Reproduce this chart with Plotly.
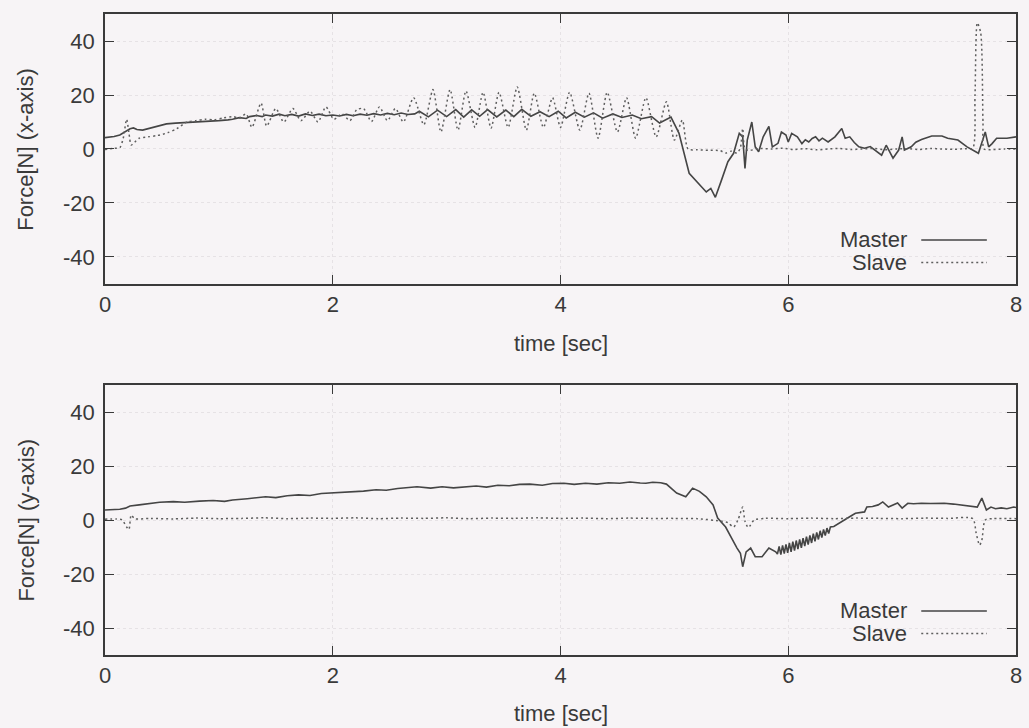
import plotly.graph_objects as go
from plotly.subplots import make_subplots

# ---- measured force, x-axis direction ----
fx_master_t = [0.00, 0.08, 0.13, 0.17, 0.22, 0.25, 0.28, 0.33, 0.40, 0.48, 0.54, 0.62, 0.71, 0.80, 0.92,
               1.00, 1.08, 1.12, 1.18, 1.24, 1.27, 1.33, 1.38, 1.41, 1.47, 1.53, 1.58, 1.64, 1.70, 1.76,
               1.82, 1.88, 1.94, 2.00, 2.06, 2.12, 2.18, 2.24, 2.30, 2.36, 2.42, 2.48, 2.54, 2.60, 2.66,
               2.72, 2.76, 2.84, 2.92, 3.00, 3.08, 3.15, 3.22, 3.29, 3.36, 3.44, 3.52, 3.59, 3.66, 3.74,
               3.82, 3.90, 3.98, 4.05, 4.13, 4.21, 4.29, 4.37, 4.46, 4.54, 4.63, 4.71, 4.80, 4.87, 4.97,
               5.04, 5.13, 5.22, 5.28, 5.32, 5.36, 5.41, 5.47, 5.52, 5.57, 5.60, 5.62, 5.64, 5.68, 5.71,
               5.74, 5.78, 5.83, 5.86, 5.91, 5.94, 5.98, 6.00, 6.03, 6.08, 6.12, 6.15, 6.18, 6.21, 6.24,
               6.27, 6.30, 6.35, 6.41, 6.47, 6.50, 6.54, 6.58, 6.62, 6.67, 6.72, 6.76, 6.82, 6.86, 6.92,
               6.97, 7.00, 7.02, 7.08, 7.12, 7.17, 7.26, 7.35, 7.40, 7.49, 7.57, 7.67, 7.73, 7.76, 7.79,
               7.83, 7.92, 8.00]
fx_master = [4.2, 4.6, 5.2, 6.3, 7.5, 7.8, 7.2, 7.0, 7.8, 8.8, 9.3, 9.6, 9.8, 9.9, 10.1,
             10.5, 10.8, 11.0, 11.6, 11.3, 12.0, 12.4, 12.0, 12.6, 12.2, 12.9, 12.3, 12.8, 12.2, 13.0,
             12.4, 12.9, 12.3, 12.6, 12.2, 12.8, 12.3, 12.9, 12.5, 13.1, 12.6, 13.2, 12.7, 13.3, 12.8,
             13.0, 14.0, 11.9, 14.4, 12.0, 14.6, 11.8, 14.5, 12.1, 14.6, 11.9, 14.4, 12.0, 14.7, 12.1,
             13.8, 12.0, 14.0, 11.5, 13.6, 11.8, 13.4, 11.4, 13.0, 11.7, 12.6, 11.2, 12.0, 9.6, 11.8,
             5.9, -9.0, -13.3, -15.9, -14.6, -17.9, -12.0, -4.7, -1.6, 5.8, 4.5, -7.2, 3.3, 10.0, 0.8,
             -1.0, 4.5, 8.4, 0.8, 2.1, 6.3, 5.2, 2.6, 5.8, 4.5, 2.0, 3.4, 2.6, 3.9, 4.5,
             3.0, 4.0, 2.6, 4.5, 7.6, 4.0, 4.5, 2.4, 0.8, 0.3, 0.9, -0.4, -2.3, 1.4, -3.4,
             -0.4, 4.5, -0.4, 0.8, 2.5, 3.5, 4.8, 4.8, 4.0, 3.3, 0.8, -1.6, 6.3, 0.8, 2.0,
             4.0, 4.0, 4.5]

fx_slave_t = [0.00, 0.08, 0.13, 0.16, 0.19, 0.21, 0.23, 0.26, 0.30, 0.38, 0.46, 0.55, 0.63, 0.72, 0.80,
              0.88, 0.96, 1.04, 1.12, 1.18, 1.24, 1.29, 1.37, 1.42, 1.50, 1.57, 1.65, 1.72, 1.80, 1.87,
              1.94, 2.01, 2.08, 2.15, 2.21, 2.27, 2.34, 2.41, 2.48, 2.55, 2.62, 2.71, 2.80, 2.88, 2.95,
              3.03, 3.10, 3.17, 3.25, 3.32, 3.39, 3.46, 3.54, 3.62, 3.70, 3.77, 3.85, 3.93, 4.00, 4.08,
              4.17, 4.25, 4.33, 4.41, 4.50, 4.58, 4.66, 4.75, 4.84, 4.93, 5.00, 5.07, 5.12, 5.20, 5.30,
              5.40, 5.45, 5.50, 5.55, 5.58, 5.60, 5.62, 5.66, 5.75, 5.85, 5.95, 6.05, 6.15, 6.25, 6.35,
              6.45, 6.55, 6.65, 6.75, 6.85, 6.95, 7.05, 7.15, 7.25, 7.35, 7.45, 7.55, 7.62, 7.64, 7.66,
              7.69, 7.71, 7.72, 7.80, 7.90, 8.00]
fx_slave = [-0.2, 0.3, 0.5, 4.0, 11.0, 6.0, 1.5, 2.5, 4.0, 4.5, 5.0, 6.0, 7.5, 10.0, 10.5,
            11.0, 10.8, 11.5, 12.0, 11.5, 13.0, 8.0, 17.0, 8.5, 15.0, 10.0, 15.0, 10.5, 14.0, 10.0,
            15.6, 11.0, 13.0, 10.5, 14.5, 15.0, 10.2, 15.6, 10.5, 15.0, 10.0, 19.0, 9.0, 22.0, 6.3,
            22.0, 7.0, 21.5, 8.0, 21.0, 7.7, 21.0, 8.0, 23.0, 7.0, 20.7, 8.0, 19.0, 8.0, 21.0,
            7.0, 20.7, 4.0, 21.0, 6.3, 19.0, 4.0, 19.0, 4.5, 17.5, 3.3, 10.7, 0.0, -0.3, -0.5,
            -0.6, -1.5, -0.8, -1.5, 0.5, 7.6, 0.0, -0.5, 0.2, 0.0, 0.3, -0.2, 0.1, -0.3, 0.0,
            0.2, -0.2, 0.0, 0.2, -0.3, 0.0, 0.1, -0.2, 0.2, 0.0, -0.1, 0.1, 0.3, 20.0, 46.7,
            43.0, 10.0, 0.0, -0.2, 0.0, 0.0]

# ---- measured force, y-axis direction ----
fy_master_t = [0.00, 0.13, 0.18, 0.22, 0.30, 0.40, 0.48, 0.60, 0.70, 0.83, 0.95, 1.05, 1.12, 1.25, 1.35,
               1.41, 1.50, 1.60, 1.70, 1.80, 1.90, 1.99, 2.10, 2.20, 2.27, 2.38, 2.47, 2.57, 2.66, 2.74,
               2.86, 2.96, 3.06, 3.16, 3.26, 3.35, 3.45, 3.55, 3.64, 3.73, 3.84, 3.93, 4.03, 4.12, 4.22,
               4.32, 4.42, 4.52, 4.61, 4.70, 4.75, 4.81, 4.88, 4.93, 5.02, 5.10, 5.16, 5.22, 5.28, 5.34,
               5.38, 5.45, 5.51, 5.55, 5.58, 5.60, 5.63, 5.67, 5.71, 5.77, 5.83, 5.89, 5.905, 5.92, 5.935,
               5.95, 5.965, 5.98, 5.995, 6.01, 6.025, 6.04, 6.055, 6.07, 6.085, 6.10, 6.115, 6.13, 6.145, 6.16,
               6.175, 6.19, 6.205, 6.22, 6.235, 6.25, 6.265, 6.28, 6.295, 6.31, 6.325, 6.34, 6.355, 6.37, 6.40,
               6.45, 6.50, 6.55, 6.59, 6.63, 6.67, 6.69, 6.74, 6.79, 6.83, 6.88, 6.92, 6.96, 7.00, 7.05,
               7.10, 7.17, 7.25, 7.37, 7.45, 7.52, 7.60, 7.66, 7.70, 7.74, 7.78, 7.82, 7.87, 7.92, 7.98,
               8.00]
fy_master = [3.7, 4.0, 4.4, 5.2, 5.6, 6.2, 6.6, 6.8, 6.6, 7.0, 7.2, 6.9, 7.4, 7.9, 8.2,
             8.6, 8.3, 9.0, 9.3, 9.1, 9.8, 10.0, 10.2, 10.5, 10.7, 11.2, 11.0, 11.7, 12.1, 12.3,
             11.8, 12.3, 11.9, 12.3, 12.6, 12.2, 12.9, 12.7, 13.2, 13.3, 12.9, 13.5, 13.6, 13.2, 13.6,
             13.3, 13.8, 13.6, 14.1, 13.7, 13.6, 14.0, 13.8, 13.3, 10.0, 8.6, 11.8, 10.6, 8.6, 5.6,
             0.7, -2.6, -7.4, -10.4, -12.3, -17.3, -11.8, -10.4, -13.6, -13.6, -10.4, -11.8, -12.6, -9.8, -12.8,
             -9.4, -12.4, -9.0, -12.2, -8.5, -11.8, -8.0, -11.3, -7.6, -10.8, -7.2, -10.3, -6.7, -9.7, -6.2,
             -9.1, -5.7, -8.5, -5.1, -7.9, -4.6, -7.2, -4.0, -6.5, -3.5, -5.8, -3.0, -5.0, -2.6, -2.4,
             -1.2, 0.0, 1.5, 2.5, 2.8, 3.0, 4.8, 5.0, 5.6, 6.7, 4.8, 5.6, 6.3, 4.4, 6.2,
             6.0, 6.2, 6.1, 6.2, 5.9, 5.6, 5.2, 4.8, 8.1, 3.7, 4.8, 4.2, 4.5, 4.2, 4.8,
             4.6]

fy_slave_t = [0.00, 0.10, 0.15, 0.19, 0.21, 0.23, 0.26, 0.40, 0.60, 0.80, 1.00, 1.20, 1.40, 1.60, 1.80,
              2.00, 2.20, 2.40, 2.60, 2.80, 3.00, 3.20, 3.40, 3.60, 3.80, 4.00, 4.20, 4.40, 4.60, 4.80,
              5.00, 5.20, 5.42, 5.47, 5.52, 5.56, 5.60, 5.62, 5.65, 5.70, 5.80, 6.00, 6.20, 6.40, 6.60,
              6.80, 7.00, 7.20, 7.40, 7.62, 7.65, 7.68, 7.70, 7.73, 7.80, 8.00]
fy_slave = [0.3, 0.4, 0.0, -2.6, -3.5, 1.8, 0.5, 0.6, 0.4, 0.7, 0.5, 0.6, 0.8, 0.5, 0.7,
            0.6, 0.8, 0.5, 0.7, 0.6, 0.8, 0.5, 0.7, 0.6, 0.8, 0.6, 0.7, 0.5, 0.7, 0.6,
            0.6, 0.5, -0.5, -1.0, -2.6, 0.2, 4.8, -0.5, -2.8, 0.0, 0.6, 0.5, 0.7, 0.5, 0.7,
            0.6, 0.5, 0.7, 0.6, 0.5, -4.8, -9.3, -7.5, 0.0, 0.5, 0.5]

x_ticks = [0, 2, 4, 6, 8]
y_ticks = [-40, -20, 0, 20, 40]
y_tick_text = ["-40", "-20", "0", "20", "40"]

INK = "#3a3a3a"
BG = "#f7f4f6"
FONT = "Liberation Sans, Arial, sans-serif"
master_line = dict(color="#454545", width=1.6)
slave_line = dict(color="#5e5e5e", width=1.5, dash="2px,3px")

fig = make_subplots(rows=2, cols=1, vertical_spacing=0.0)

panels = [
    (1, fx_master_t, fx_master, fx_slave_t, fx_slave),
    (2, fy_master_t, fy_master, fy_slave_t, fy_slave),
]
for row, mt, mv, st, sv in panels:
    fig.add_trace(go.Scatter(x=mt, y=mv, mode="lines", line=master_line,
                             name="Master", showlegend=False), row=row, col=1)
    fig.add_trace(go.Scatter(x=st, y=sv, mode="lines",
                             line=dict(slave_line, shape="spline", smoothing=0.7),
                             name="Slave", showlegend=False), row=row, col=1)

axis_common = dict(
    showline=True, linecolor=INK, linewidth=1.6, mirror="allticks",
    ticks="inside", ticklen=9, tickwidth=1.4, tickcolor=INK,
    showgrid=True, gridcolor="#e6e2e5", griddash="dot", gridwidth=1,
    zeroline=False, tickfont=dict(family=FONT, size=22, color=INK),
)
for row in (1, 2):
    fig.update_xaxes(range=[0, 8], tickvals=x_ticks, row=row, col=1, **axis_common)
    fig.update_yaxes(range=[-50, 50], tickvals=y_ticks, ticktext=y_tick_text,
                     row=row, col=1, ticklabelstandoff=4, **axis_common)

# panel placement (fractions of the plotting area)
fig.update_layout(
    yaxis=dict(domain=[0.5788, 1.0]),
    yaxis2=dict(domain=[0.0, 0.4212]),
)

annotations = []
title_font = dict(family=FONT, size=22, color=INK)
# axis titles
for ycen, ylab, ytime in [(0.789, "Force[N] (x-axis)", 0.4867), (0.2106, "Force[N] (y-axis)", -0.0905)]:
    annotations.append(dict(x=-0.0872, y=ycen, xref="paper", yref="paper", text=ylab,
                            textangle=-90, showarrow=False, font=title_font,
                            xanchor="center", yanchor="middle"))
    annotations.append(dict(x=0.5, y=ytime, xref="paper", yref="paper", text="time [sec]",
                            showarrow=False, font=title_font,
                            xanchor="center", yanchor="middle"))

# key inside each panel: right-aligned names with sample lines to their right
shapes = []
for xr, yr in [("x domain", "y domain"), ("x2 domain", "y2 domain")]:
    for ypos, name, style in [(0.163, "Master", master_line), (0.08, "Slave", slave_line)]:
        annotations.append(dict(x=0.882, y=ypos, xref=xr, yref=yr, text=name,
                                showarrow=False, font=title_font,
                                xanchor="right", yanchor="middle"))
        shapes.append(dict(type="line", xref=xr, yref=yr, x0=0.896, x1=0.968,
                           y0=ypos, y1=ypos, line=style))

fig.update_layout(
    width=1029, height=728,
    margin=dict(l=105, r=7, t=14, b=73),
    paper_bgcolor=BG, plot_bgcolor=BG,
    annotations=annotations, shapes=shapes,
    showlegend=False,
)

fig.write_html("out.html")
